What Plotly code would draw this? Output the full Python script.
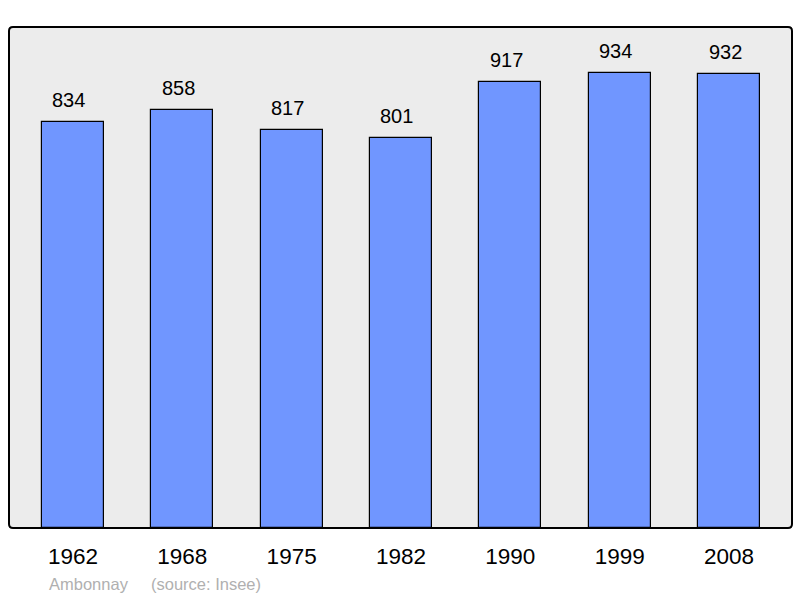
import plotly.graph_objects as go

years = ["1962", "1968", "1975", "1982", "1990", "1999", "2008"]
population = [834, 858, 817, 801, 917, 934, 932]
place = "Ambonnay"
source = "(source: Insee)"

W, H = 800, 598
L, R, T, B = 9, 8, 27, 70
pw = W - L - R
ph = H - T - B
FONT = "Liberation Sans, Arial, sans-serif"

xs = list(range(len(years)))

fig = go.Figure()
fig.add_trace(go.Bar(
    x=xs, y=population, width=0.567,
    marker=dict(color="#7096ff", line=dict(color="#000000", width=1.2)),
    hoverinfo="skip",
))

for x, v in zip(xs, population):
    fig.add_annotation(x=x, y=v, text=str(v), showarrow=False, xref="x", yref="y",
                       yanchor="bottom", yshift=9, xshift=-4,
                       font=dict(family=FONT, size=20, color="#000"))

# rounded frame
r = 4 / pw
ry = 4 / ph
path = (f"M {r},0 L {1-r},0 Q 1,0 1,{ry} L 1,{1-ry} Q 1,1 {1-r},1 "
        f"L {r},1 Q 0,1 0,{1-ry} L 0,{ry} Q 0,0 {r},0 Z")
fig.add_shape(type="path", path=path, xref="paper", yref="paper",
              line=dict(color="#000000", width=2), fillcolor="rgba(0,0,0,0)", layer="above")

fy = -(584 - (T + ph)) / ph
fig.add_annotation(x=(47 - L) / pw, y=fy, xref="paper", yref="paper",
                   text=place, showarrow=False, xanchor="left", yanchor="middle",
                   font=dict(family=FONT, size=16.5, color="#b0b0b0"))
fig.add_annotation(x=(149 - L) / pw, y=fy, xref="paper", yref="paper",
                   text=source, showarrow=False, xanchor="left", yanchor="middle",
                   font=dict(family=FONT, size=16.5, color="#b0b0b0"))

fig.update_layout(
    width=W, height=H,
    margin=dict(l=L, r=R, t=T, b=B, pad=0),
    paper_bgcolor="#ffffff",
    plot_bgcolor="#ececec",
    showlegend=False,
    bargap=0,
    xaxis=dict(
        range=[-0.585, 6.576], tickmode="array", tickvals=xs, ticktext=years,
        showgrid=False, zeroline=False, showline=False,
        ticks="outside", ticklen=8, tickcolor="rgba(0,0,0,0)",
        tickfont=dict(family=FONT, size=22.5, color="#000"),
        fixedrange=True,
    ),
    yaxis=dict(
        range=[0, 1029], showgrid=False, zeroline=False, showline=False,
        showticklabels=False, ticks="", fixedrange=True,
    ),
)

fig.write_html("out.html", config={"displayModeBar": False},
               post_script="document.body.style.margin='0';document.body.style.overflow='hidden';")
